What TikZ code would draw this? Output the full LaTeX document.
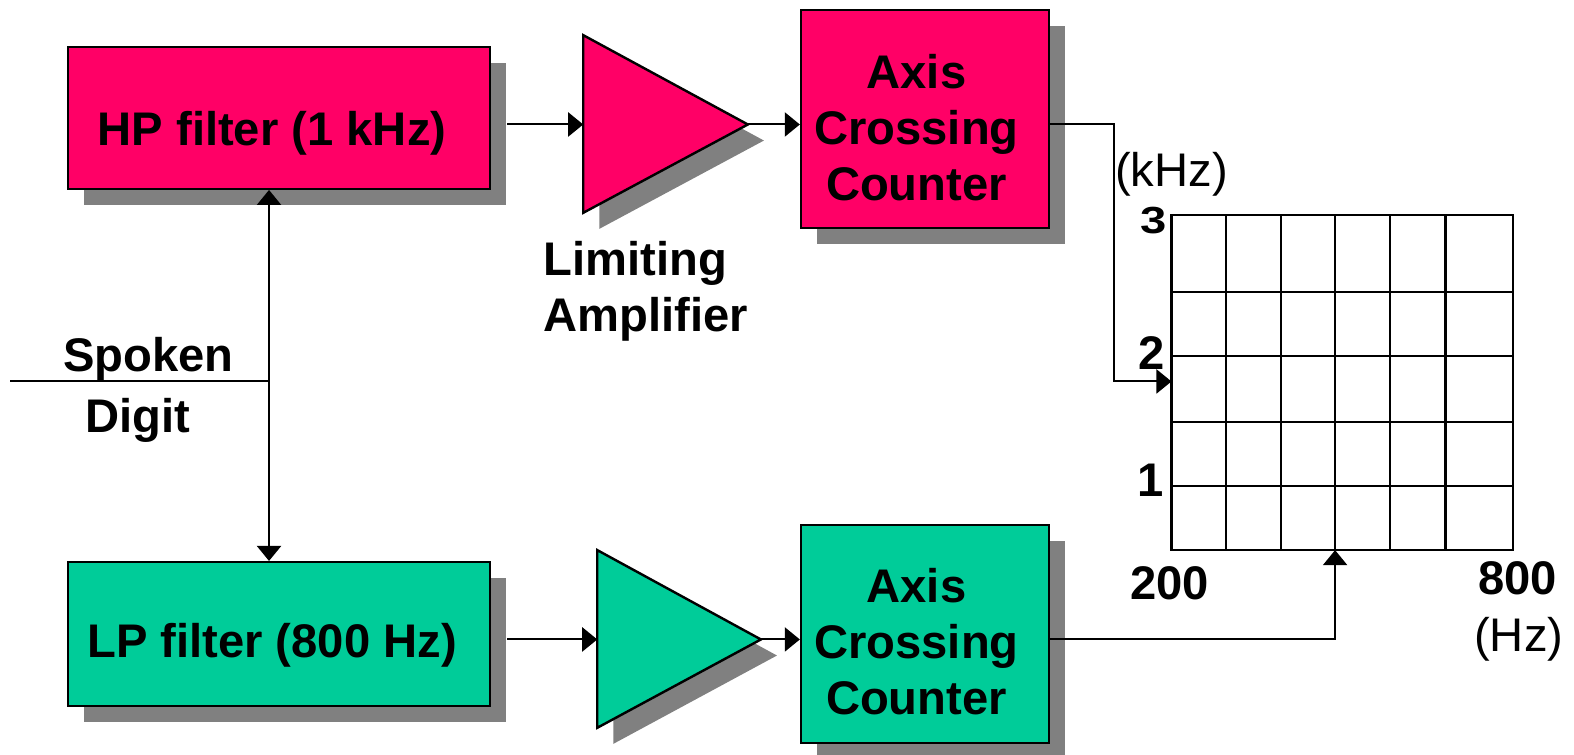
\documentclass[tikz,border=0pt]{standalone}
\usepackage{fontspec}
\usepackage{graphicx}
\setmainfont{Liberation Sans}
\usetikzlibrary{arrows.meta,shadows}
\definecolor{hot}{HTML}{FF0066}
\definecolor{sea}{HTML}{00CC99}
\definecolor{shad}{HTML}{808080}
\newcommand\bigf{\fontsize{23.5}{28}\selectfont}
\begin{document}
\begin{tikzpicture}[x=0.5pt,y=-0.5pt,
  conn/.style={line width=1pt},
  arr/.style={conn,-{Triangle[length=7.5pt,width=12pt]}},
  blk/.style={draw=black,line width=1.2pt,rectangle,inner sep=0pt,
    drop shadow={shadow xshift=8pt,shadow yshift=-8pt,fill=shad,opacity=1}},
  amp/.style={draw=black,line width=1.2pt,line join=miter},
  lab/.style={font=\bigf\bfseries,inner sep=0pt,anchor=base,align=center},
  labn/.style={font=\bigf,inner sep=0pt,anchor=base},
  gridline/.style={line width=1.1pt},
]
\useasboundingbox (0,0) rectangle (1568,752);

% blocks
\node[blk,fill=hot,minimum width=210pt,minimum height=70.5pt] (hp) at (278,117.5) {};
\node[blk,fill=sea,minimum width=210pt,minimum height=71.5pt] (lp) at (278,631.5) {};
\node[blk,fill=hot,minimum width=123.5pt,minimum height=108.5pt] (acc1) at (921.5,118.5) {};
\node[blk,fill=sea,minimum width=123.5pt,minimum height=108.5pt] (acc2) at (921.5,631.5) {};

% amplifiers
\coordinate (t1a) at (581,35);
\coordinate (t1b) at (581,212);
\coordinate (t1o) at (745,124);
\coordinate (t1i) at (581,124);
\coordinate (t2a) at (595,548);
\coordinate (t2b) at (595,725);
\coordinate (t2o) at (758,637);
\coordinate (t2i) at (595,637);
\fill[shad] ([shift={(16,16)}]t1a) -- ([shift={(16,16)}]t1o) -- ([shift={(16,16)}]t1b) -- cycle;
\filldraw[amp,fill=hot] (t1a) -- (t1o) -- (t1b) -- cycle;
\fill[shad] ([shift={(16,16)}]t2a) -- ([shift={(16,16)}]t2o) -- ([shift={(16,16)}]t2b) -- cycle;
\filldraw[amp,fill=sea] (t2a) -- (t2o) -- (t2b) -- cycle;

% grid
\coordinate (gnw) at (1167,214);
\coordinate (gse) at (1507,548);
\draw[gridline] (gnw) rectangle (gse);
\foreach \gx in {1221.5,1276,1330,1385,1440} \draw[gridline] (\gx,214) -- (\gx,548);
\foreach \gy in {291,355,420,484} \draw[gridline] (1167,\gy) -- (1507,\gy);
\coordinate (gin1) at (1167,380);
\coordinate (gin2) at (1330,548);

% texts
\node[lab] (hpt) at (271,145) {HP filter (1 kHz)};
\node[lab] (lpt) at (271,655) {LP filter (800 Hz)};
\node[lab] (acc1t) at (913,200) {Axis\\Crossing\\Counter};
\node[lab] (acc2t) at (913,712) {Axis\\Crossing\\Counter};
\node[lab,anchor=base west,align=left] (limt) at (541,330) {Limiting\\Amplifier};
\node[lab] (spk) at (148,370) {Spoken};
\node[lab] (dig) at (137,431) {Digit};
\node[labn] (khz) at (1167,186) {(kHz)};
\node[lab,anchor=base east] (y3) at (1163,233) {\scalebox{1}[0.8]{3}};
\node[lab,anchor=base east] (y2) at (1161,368) {2};
\node[lab,anchor=base east] (y1) at (1160,495) {1};
\node[lab] (x200) at (1165,597) {200};
\node[lab] (x800) at (1512,592) {800};
\node[labn] (hz) at (1513,649) {(Hz)};

% connectors
\coordinate (sp) at (10,380);
\coordinate (jn) at (268,380);
\draw[conn] (sp) -- (jn);
\draw[arr] (jn) -- (jn |- hp.south);
\draw[arr] (jn) -- (jn |- lp.north);
\coordinate (hpo) at ([xshift=8pt]hp.east);
\coordinate (lpo) at ([xshift=8pt]lp.east);
\draw[arr] (hpo |- t1i) -- (t1i);
\draw[arr] (t1o) -- (t1o -| acc1.west);
\draw[arr] (lpo |- t2i) -- (t2i);
\draw[arr] (t2o) -- (t2o -| acc2.west);
\coordinate (bend1) at (1110,124);
\draw[arr] (t1o -| acc1.east) -- (bend1) -- (bend1 |- gin1) -- (gin1);
\draw[arr] (t2o -| acc2.east) -- (gin2 |- t2o) -- (gin2);
\end{tikzpicture}
\end{document}
